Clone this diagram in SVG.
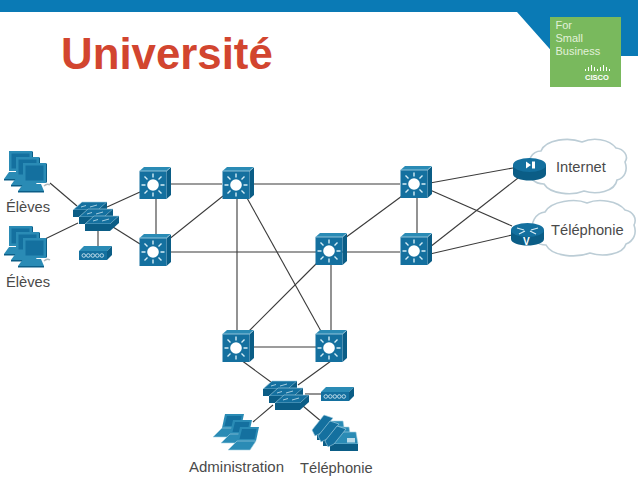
<svg xmlns="http://www.w3.org/2000/svg" xmlns:xlink="http://www.w3.org/1999/xlink" width="638" height="479" viewBox="0 0 638 479">
<style>
text{font-family:"Liberation Sans",Arial,sans-serif}
.lbl{font-size:14.7px;fill:#4a4a4a}
.c line{stroke:#3a3a3a;stroke-width:1.1}
.f{fill:#14709f}.t{fill:#2a8bb5}.s{fill:#0b5d86}
.o{stroke:#a9d3e4;stroke-width:.6}
.w{stroke:#d5edf6;stroke-width:1.4;fill:none}
.cloud{fill:#fff;stroke:#bccdd6;stroke-width:1.6}
.logo{font-size:11px;fill:#e2f1d9}
</style>
<defs>
<g id="sw">
<path class="t" d="M-13.500,-14 L-9,-18 L18,-18 L13.500,-14Z"/>
<path class="s" d="M13.500,-14 L18,-18 L18,10 L13.500,14Z"/>
<rect class="f" x="-13.500" y="-14" width="27" height="28"/>
<path d="M-13.500,-14H13.500M13.500,-14L18,-18" stroke="#bfe0ee" stroke-width=".7" fill="none"/>
<circle r="5.800" fill="#fff"/>
<path class="w" d="M0,-11.500V-7.500M0,7.500V11.500M-11.500,0H-7.500M7.500,0H11.500M-8.500,-8.500L-5.500,-5.500M8.500,-8.500L5.500,-5.500M-8.500,8.500L-5.500,5.500M8.500,8.500L5.500,5.500"/>
</g>
<g id="slab">
<path class="f o" d="M0,8 L9,0 H34 L25,8Z"/>
<path class="s" d="M25,8 L34,0 V7 L25,15Z"/>
<rect class="s" x="0" y="8" width="25" height="7"/>
<path d="M8,5L13,3.500M17,5L24,3" stroke="#e0f2f9" stroke-width=".7" fill="none"/>
</g>
<g id="hub">
<use xlink:href="#slab" x="0" y="0"/>
<use xlink:href="#slab" x="6" y="7"/>
<use xlink:href="#slab" x="12" y="14"/>
</g>
<g id="mod">
<path class="t" d="M-16,-2 L-11,-7 L17,-7 L12,-2Z"/>
<path class="s" d="M12,-2 L17,-7 V2 L12,7Z"/>
<rect class="f" x="-16" y="-2" width="28" height="9"/>
<path d="M-13,2.500a1.800,1.800 0 1 1 3.600,0a1.800,1.800 0 1 1 -3.600,0M-8.500,2.500a1.800,1.800 0 1 1 3.600,0a1.800,1.800 0 1 1 -3.600,0M-4,2.500a1.800,1.800 0 1 1 3.600,0a1.800,1.800 0 1 1 -3.600,0M.5,2.500a1.800,1.800 0 1 1 3.600,0a1.800,1.800 0 1 1 -3.600,0M5,2.500a1.800,1.800 0 1 1 3.600,0a1.800,1.800 0 1 1 -3.600,0" fill="none" stroke="#dff0f7" stroke-width=".8"/>
</g>
<g id="pc1">
<path class="t" d="M-5,28 L0,21 H18 L21,28Z"/>
<path class="s" d="M-5,28 H21 V29.500 H-5Z"/>
<rect class="t" x="0" y="0" width="23" height="20"/>
<rect class="f" x="2.500" y="2.500" width="18" height="15"/>
<path class="s" d="M23,0 L24,1 V19 L23,20Z"/>
</g>
<g id="pcs">
<use xlink:href="#pc1" x="9" y="12"/>
<use xlink:href="#pc1" x="16" y="18"/>
<use xlink:href="#pc1" x="23" y="24"/>
<path d="M44,47q3,-3 6,-1" fill="none" stroke="#b0b8bc" stroke-width="1.500"/>
</g>
<g id="lap1">
<path class="t" d="M3,0 H22 L19,14 H0Z"/>
<path class="f" d="M5,2 H19.500 L17.500,12 H2.500Z"/>
<path class="t o" d="M0,14 H19 L13,23 H-9Z"/>
</g>
<g id="ph1">
<path class="t o" d="M6,17 L18,5 H31 L33,17Z"/>
<path class="s" d="M5,17 H33 V24 H5Z"/>
<rect x="22" y="11" width="8" height="4.500" fill="#bcdcea"/>
<path class="f o" d="M0,14 L12,-1 L21,2 L9,17 L3,20Z"/>
</g>
</defs>

<rect width="638" height="479" fill="#fff"/>
<path d="M0,0H638V56H556L517,12H0Z" fill="#0a7ab5"/>
<text x="61" y="69" font-size="43.800" font-weight="bold" fill="#d2452f">Université</text>
<g id="logo">
<rect x="550" y="17" width="71" height="70" fill="#79b95d"/>
<text class="logo" x="555.500" y="29">For</text>
<text class="logo" x="555.500" y="42">Small</text>
<text class="logo" x="555.500" y="55">Business</text>
<path d="M585.500,71v-2M588.500,71v-4M591.500,71v-6M594.500,71v-4M597.500,71v-2M600.500,71v-4M603.500,71v-6M606.500,71v-4M609.500,71v-2" stroke="#fff" stroke-width="1"/>
<text x="585" y="79.500" font-size="7.500" font-weight="bold" fill="#fff">CISCO</text>
</g>

<g id="connectors" class="c">
<line x1="50" y1="183" x2="77" y2="206"/>
<line x1="45" y1="239" x2="78" y2="223"/>
<line x1="107" y1="207" x2="140" y2="192"/>
<line x1="113" y1="227" x2="140" y2="244"/>
<line x1="98" y1="230" x2="98" y2="248"/>
<line x1="156" y1="195" x2="156" y2="238"/>
<line x1="168" y1="184" x2="222" y2="184"/>
<line x1="168" y1="240" x2="223" y2="196"/>
<line x1="168" y1="252" x2="400" y2="252"/>
<line x1="250" y1="184" x2="400" y2="184"/>
<line x1="237" y1="198" x2="237" y2="333"/>
<line x1="247" y1="198" x2="322" y2="333"/>
<line x1="345" y1="238" x2="402" y2="196"/>
<line x1="318" y1="262" x2="247" y2="333"/>
<line x1="331" y1="265" x2="331" y2="333"/>
<line x1="417" y1="196" x2="417" y2="238"/>
<line x1="250" y1="347" x2="316" y2="347"/>
<line x1="241" y1="360" x2="275" y2="385"/>
<line x1="331" y1="361" x2="298" y2="385"/>
<line x1="305" y1="394" x2="322" y2="394"/>
<line x1="273" y1="405" x2="253" y2="422"/>
<line x1="303" y1="406" x2="322" y2="422"/>
<line x1="430" y1="183" x2="513" y2="168"/>
<line x1="430" y1="190" x2="512" y2="226"/>
<line x1="430" y1="247" x2="518" y2="178"/>
<line x1="430" y1="254" x2="512" y2="235"/>
</g>

<g id="pcs-1" transform="translate(0,139)"><use xlink:href="#pcs"/></g>
<text class="lbl" x="6" y="212">Élèves</text>
<g id="pcs-2" transform="translate(0,214)"><use xlink:href="#pcs"/></g>
<text class="lbl" x="6" y="287">Élèves</text>

<g id="hub-1" transform="translate(73,202)"><use xlink:href="#hub"/></g>
<g id="mod-1" transform="translate(95,253)"><use xlink:href="#mod"/></g>
<g id="sw-1" transform="translate(153,185)"><use xlink:href="#sw"/></g>
<g id="sw-2" transform="translate(153,252)"><use xlink:href="#sw"/></g>
<g id="sw-3" transform="translate(236,185)"><use xlink:href="#sw"/></g>
<g id="sw-4" transform="translate(414,184)"><use xlink:href="#sw"/></g>
<g id="sw-5" transform="translate(414,251)"><use xlink:href="#sw"/></g>
<g id="sw-6" transform="translate(329,251)"><use xlink:href="#sw"/></g>
<g id="sw-7" transform="translate(236,348)"><use xlink:href="#sw"/></g>
<g id="sw-8" transform="translate(329,348)"><use xlink:href="#sw"/></g>

<g id="cloud-internet">
<path class="cloud" d="M541,151c5,-12 28,-14 41,-9c11,-5 27,-3 34,6c8,1 13,8 9,14c3,8 0,16 -8,18c-2,12 -21,15 -33,11c-12,5 -34,3 -40,-7c-10,0 -16,-7 -13,-14c-5,-9 1,-19 10,-19Z"/>
<text class="lbl" x="556" y="172">Internet</text>
</g>
<g id="cloud-tel">
<path class="cloud" d="M545,212c6,-11 30,-14 42,-9c12,-5 31,-2 38,7c9,2 12,9 9,15c3,8 0,16 -8,19c-3,11 -24,13 -36,9c-13,5 -38,4 -44,-8c-9,0 -14,-6 -12,-12c-5,-10 2,-20 11,-21Z"/>
<text class="lbl" x="551" y="235">Téléphonie</text>
</g>
<g id="router-1">
<path class="s" d="M513,165v9c0,4 8,6.500 16.500,6.500s16.500,-2.500 16.500,-6.500v-9Z"/>
<ellipse class="f" cx="529.500" cy="165" rx="16.500" ry="7"/>
<path d="M526,161.500l5,3.500l-5,3.500ZM532,161.500h3v7h-3Z" fill="#fff"/>
</g>
<g id="router-2">
<path class="s" d="M511,230v9c0,4 8,6.500 16.500,6.500s16.500,-2.500 16.500,-6.500v-9Z"/>
<ellipse class="f" cx="527.500" cy="230" rx="16.500" ry="7"/>
<path d="M517,228l7,2M538,228l-7,2M519,234l6,-3M536,234l-6,-3" stroke="#d8edf5" stroke-width="1.200" fill="none"/>
<text x="523" y="245" font-size="10" font-weight="bold" fill="#fff">V</text>
</g>

<g id="hub-2" transform="translate(263,381)"><use xlink:href="#hub"/></g>
<g id="mod-2" transform="translate(337,394)"><use xlink:href="#mod"/></g>
<g id="laptops" transform="translate(222,414)">
<use xlink:href="#lap1" x="0" y="0"/>
<use xlink:href="#lap1" x="8" y="6"/>
<use xlink:href="#lap1" x="15" y="13"/>
</g>
<g id="phones" transform="translate(312,416)">
<use xlink:href="#ph1" x="0" y="0"/>
<use xlink:href="#ph1" x="6" y="6"/>
<use xlink:href="#ph1" x="13" y="11"/>
</g>
<text class="lbl" x="189" y="472" style="font-size:15px">Administration</text>
<text class="lbl" x="300" y="473">Téléphonie</text>
</svg>
